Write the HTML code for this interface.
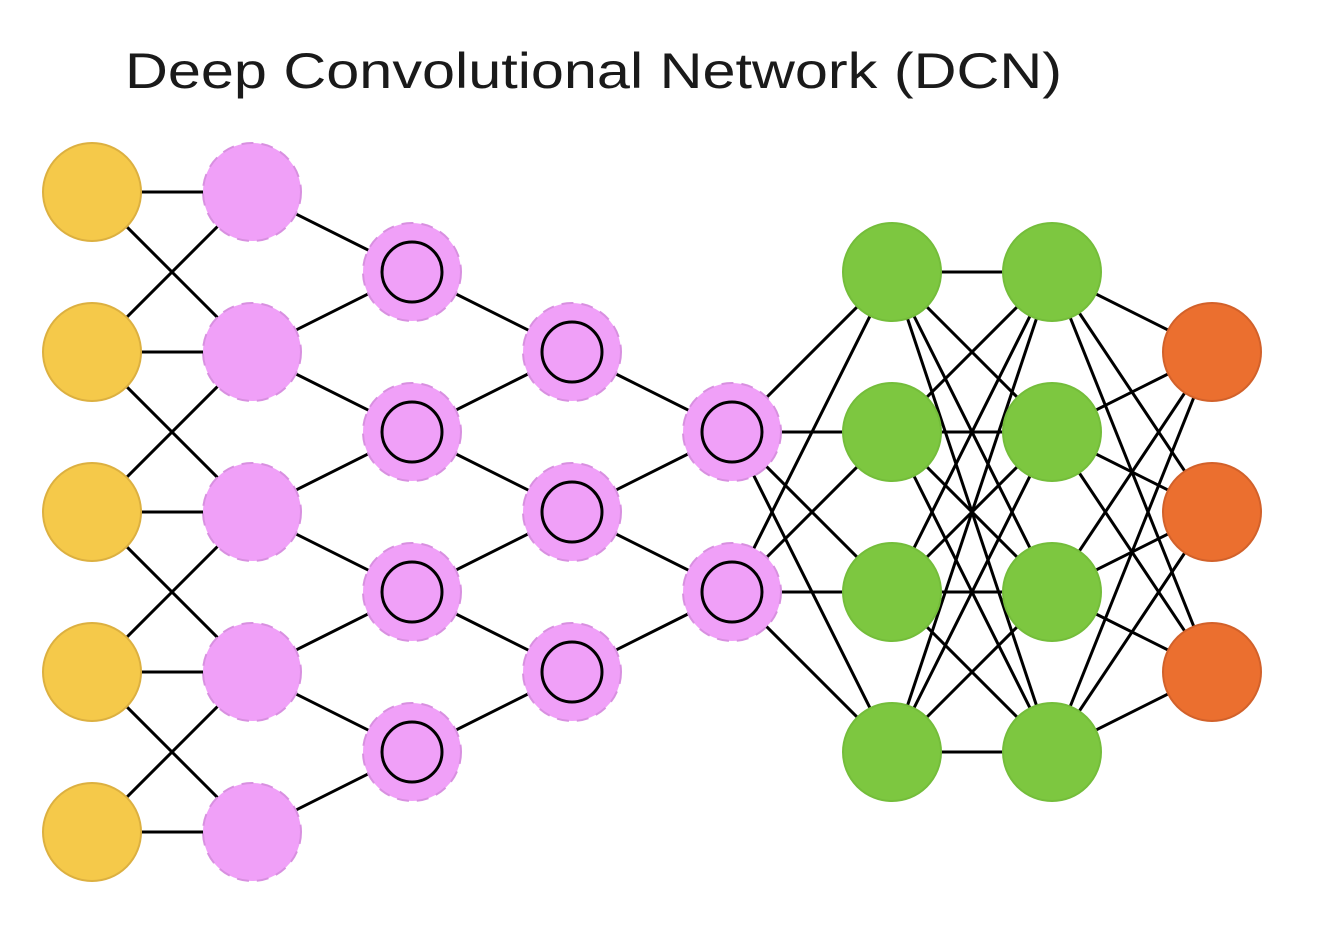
<!DOCTYPE html>
<html><head><meta charset="utf-8"><style>html,body{margin:0;padding:0;background:#fff;}svg{display:block}</style></head>
<body>
<svg width="1336" height="948" viewBox="0 0 1336 948" xmlns="http://www.w3.org/2000/svg">
<text x="125" y="88" font-family="Liberation Sans, sans-serif" font-size="50" fill="#1a1a1a" textLength="937" lengthAdjust="spacingAndGlyphs">Deep Convolutional Network (DCN)</text>
<g stroke="#000" stroke-width="3">
<!-- col1-col2 -->
<line x1="92" y1="192" x2="252" y2="192"/><line x1="92" y1="192" x2="252" y2="352"/>
<line x1="92" y1="352" x2="252" y2="192"/><line x1="92" y1="352" x2="252" y2="352"/><line x1="92" y1="352" x2="252" y2="512"/>
<line x1="92" y1="512" x2="252" y2="352"/><line x1="92" y1="512" x2="252" y2="512"/><line x1="92" y1="512" x2="252" y2="672"/>
<line x1="92" y1="672" x2="252" y2="512"/><line x1="92" y1="672" x2="252" y2="672"/><line x1="92" y1="672" x2="252" y2="832"/>
<line x1="92" y1="832" x2="252" y2="672"/><line x1="92" y1="832" x2="252" y2="832"/>
<!-- col2-col3 -->
<line x1="252" y1="192" x2="412" y2="272"/>
<line x1="252" y1="352" x2="412" y2="272"/><line x1="252" y1="352" x2="412" y2="432"/>
<line x1="252" y1="512" x2="412" y2="432"/><line x1="252" y1="512" x2="412" y2="592"/>
<line x1="252" y1="672" x2="412" y2="592"/><line x1="252" y1="672" x2="412" y2="752"/>
<line x1="252" y1="832" x2="412" y2="752"/>
<!-- col3-col4 -->
<line x1="412" y1="272" x2="572" y2="352"/>
<line x1="412" y1="432" x2="572" y2="352"/><line x1="412" y1="432" x2="572" y2="512"/>
<line x1="412" y1="592" x2="572" y2="512"/><line x1="412" y1="592" x2="572" y2="672"/>
<line x1="412" y1="752" x2="572" y2="672"/>
<!-- col4-col5 -->
<line x1="572" y1="352" x2="732" y2="432"/>
<line x1="572" y1="512" x2="732" y2="432"/><line x1="572" y1="512" x2="732" y2="592"/>
<line x1="572" y1="672" x2="732" y2="592"/>
<!-- col5-col6 full -->
<line x1="732" y1="432" x2="892" y2="272"/><line x1="732" y1="432" x2="892" y2="432"/><line x1="732" y1="432" x2="892" y2="592"/><line x1="732" y1="432" x2="892" y2="752"/>
<line x1="732" y1="592" x2="892" y2="272"/><line x1="732" y1="592" x2="892" y2="432"/><line x1="732" y1="592" x2="892" y2="592"/><line x1="732" y1="592" x2="892" y2="752"/>
<!-- col6-col7 full -->
<line x1="892" y1="272" x2="1052" y2="272"/><line x1="892" y1="272" x2="1052" y2="432"/><line x1="892" y1="272" x2="1052" y2="592"/><line x1="892" y1="272" x2="1052" y2="752"/>
<line x1="892" y1="432" x2="1052" y2="272"/><line x1="892" y1="432" x2="1052" y2="432"/><line x1="892" y1="432" x2="1052" y2="592"/><line x1="892" y1="432" x2="1052" y2="752"/>
<line x1="892" y1="592" x2="1052" y2="272"/><line x1="892" y1="592" x2="1052" y2="432"/><line x1="892" y1="592" x2="1052" y2="592"/><line x1="892" y1="592" x2="1052" y2="752"/>
<line x1="892" y1="752" x2="1052" y2="272"/><line x1="892" y1="752" x2="1052" y2="432"/><line x1="892" y1="752" x2="1052" y2="592"/><line x1="892" y1="752" x2="1052" y2="752"/>
<!-- col7-col8 full -->
<line x1="1052" y1="272" x2="1212" y2="352"/><line x1="1052" y1="272" x2="1212" y2="512"/><line x1="1052" y1="272" x2="1212" y2="672"/>
<line x1="1052" y1="432" x2="1212" y2="352"/><line x1="1052" y1="432" x2="1212" y2="512"/><line x1="1052" y1="432" x2="1212" y2="672"/>
<line x1="1052" y1="592" x2="1212" y2="352"/><line x1="1052" y1="592" x2="1212" y2="512"/><line x1="1052" y1="592" x2="1212" y2="672"/>
<line x1="1052" y1="752" x2="1212" y2="352"/><line x1="1052" y1="752" x2="1212" y2="512"/><line x1="1052" y1="752" x2="1212" y2="672"/>
</g>
<g fill="#f5c94a" stroke="#dcb040" stroke-width="2">
<circle cx="92" cy="192" r="49"/><circle cx="92" cy="352" r="49"/><circle cx="92" cy="512" r="49"/><circle cx="92" cy="672" r="49"/><circle cx="92" cy="832" r="49"/>
</g>
<g fill="#f0a0f8" stroke="#d890e0" stroke-width="2" stroke-dasharray="12 8">
<circle cx="252" cy="192" r="49"/><circle cx="252" cy="352" r="49"/><circle cx="252" cy="512" r="49"/><circle cx="252" cy="672" r="49"/><circle cx="252" cy="832" r="49"/>
<circle cx="412" cy="272" r="49"/><circle cx="412" cy="432" r="49"/><circle cx="412" cy="592" r="49"/><circle cx="412" cy="752" r="49"/>
<circle cx="572" cy="352" r="49"/><circle cx="572" cy="512" r="49"/><circle cx="572" cy="672" r="49"/>
<circle cx="732" cy="432" r="49"/><circle cx="732" cy="592" r="49"/>
</g>
<g fill="none" stroke="#000" stroke-width="3">
<circle cx="412" cy="272" r="30"/><circle cx="412" cy="432" r="30"/><circle cx="412" cy="592" r="30"/><circle cx="412" cy="752" r="30"/>
<circle cx="572" cy="352" r="30"/><circle cx="572" cy="512" r="30"/><circle cx="572" cy="672" r="30"/>
<circle cx="732" cy="432" r="30"/><circle cx="732" cy="592" r="30"/>
</g>
<g fill="#7dc740" stroke="#74bd3a" stroke-width="2">
<circle cx="892" cy="272" r="49"/><circle cx="892" cy="432" r="49"/><circle cx="892" cy="592" r="49"/><circle cx="892" cy="752" r="49"/>
<circle cx="1052" cy="272" r="49"/><circle cx="1052" cy="432" r="49"/><circle cx="1052" cy="592" r="49"/><circle cx="1052" cy="752" r="49"/>
</g>
<g fill="#eb6f2f" stroke="#d2612a" stroke-width="2">
<circle cx="1212" cy="352" r="49"/><circle cx="1212" cy="512" r="49"/><circle cx="1212" cy="672" r="49"/>
</g>
</svg>
</body></html>
